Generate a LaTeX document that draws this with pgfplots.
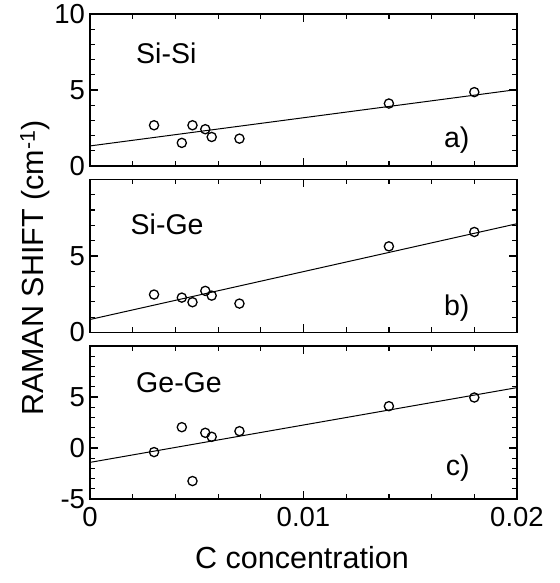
\documentclass[border=0pt]{standalone}
\usepackage{fontspec}
\setmainfont{Liberation Sans}
\usepackage{pgfplots}
\pgfplotsset{compat=1.18}
\usepgfplotslibrary{groupplots}
\newcommand\tickf{\fontsize{27.5}{32}\selectfont}
\newcommand\panf{\fontsize{28.5}{33}\selectfont}
\newcommand\labf{\fontsize{30.5}{35}\selectfont}
\begin{document}
\begin{tikzpicture}
\begin{groupplot}[
  group style={group size=1 by 3, vertical sep=13.5pt},
  width=427pt, height=153pt, scale only axis,
  xmin=0, xmax=0.02, xtick={0,0.01,0.02},
  minor xtick={0.002,0.004,0.006,0.008,0.012,0.014,0.016,0.018},
  scaled x ticks=false, scaled y ticks=false,
  tick align=inside, xtick pos=both, ytick pos=both,
  major tick length=8pt, minor tick length=5pt,
  every tick/.style={line width=1.2pt, black},
  axis line style={line width=1.6pt},
  tick label style={font=\tickf},
  /pgf/number format/assume math mode=true,
  xticklabel style={yshift=-5pt},
  yticklabel style={xshift=-1.5pt},
]
\nextgroupplot[height=152pt, ymin=0, ymax=10, ytick={0,5,10}, minor ytick={1,2,3,4,6,7,8,9}, xticklabels={}]
\addplot[line width=1pt] coordinates {(0,1.32) (0.02,5.03)};
\addplot[only marks, mark=o, mark size=4.6pt, line width=1.3pt] coordinates {
(0.0030,2.68) (0.0043,1.52) (0.0048,2.68) (0.0054,2.42) (0.0057,1.91) (0.0070,1.80) (0.0140,4.11) (0.0180,4.86)};
\node[anchor=west, font=\panf] at (rel axis cs:0.10,0.743) {Si-Si};
\node[anchor=east, font=\panf] at (rel axis cs:0.897,0.17) {a)};
\nextgroupplot[ymin=0, ymax=10, ytick={0,5}, minor ytick={1,2,3,4,6,7,8,9,10}, xticklabels={}]
\addplot[line width=1pt] coordinates {(0,0.85) (0.02,7.11)};
\addplot[only marks, mark=o, mark size=4.6pt, line width=1.3pt] coordinates {
(0.0030,2.48) (0.0043,2.28) (0.0048,1.98) (0.0054,2.72) (0.0057,2.41) (0.0070,1.89) (0.0140,5.63) (0.0180,6.57)};
\node[anchor=west, font=\panf] at (rel axis cs:0.087,0.71) {Si-Ge};
\node[anchor=east, font=\panf] at (rel axis cs:0.897,0.157) {b)};
\nextgroupplot[ymin=-5, ymax=10, ytick={-5,0,5}, minor ytick={-4,-3,-2,-1,1,2,3,4,6,7,8,9,10}, xticklabels={0,0.01,0.02}]
\addplot[line width=1pt] coordinates {(0,-1.41) (0.02,5.92)};
\addplot[only marks, mark=o, mark size=4.6pt, line width=1.3pt] coordinates {
(0.0030,-0.40) (0.0043,2.04) (0.0048,-3.24) (0.0054,1.49) (0.0057,1.10) (0.0070,1.65) (0.0140,4.10) (0.0180,4.95)};
\node[anchor=west, font=\panf] at (rel axis cs:0.10,0.758) {Ge-Ge};
\node[anchor=east, font=\panf] at (rel axis cs:0.897,0.20) {c)};
\end{groupplot}
\node[rotate=90, anchor=base, font=\labf] at ([shift={(-46pt,-254pt)}]group c1r1.north west) {RAMAN SHIFT (cm\textsuperscript{-1})};
\node[anchor=base, font=\labf] at ([shift={(212pt,-554pt)}]group c1r1.north west) {C concentration};
\pgfresetboundingbox
\useasboundingbox ([shift={(-90pt,14pt)}]group c1r1.north west) rectangle ([shift={(469pt,-569pt)}]group c1r1.north west);
\end{tikzpicture}
\end{document}
